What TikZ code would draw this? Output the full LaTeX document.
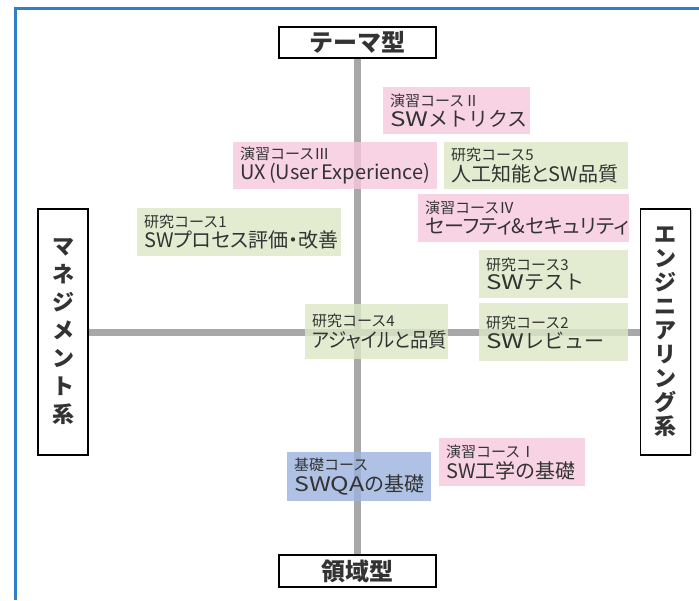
\documentclass[tikz,border=0pt]{standalone}
\usepackage{fontspec}
\setmainfont{Noto Sans CJK JP}
\newfontfamily\paltfont{Noto Sans CJK JP}[RawFeature=+palt]
\usetikzlibrary{shadows}
\definecolor{frameblue}{HTML}{2F80C9}
\definecolor{axisgray}{HTML}{A8A8A8}
\definecolor{cpink}{HTML}{F7C8DC}
\definecolor{cgreen}{HTML}{DCE8C6}
\definecolor{cblue}{HTML}{9BB3DF}
\definecolor{ctext}{HTML}{333333}
\tikzset{
  axisbox/.style={draw=black, line width=1.6pt, fill=white, inner sep=0pt,
    drop shadow={shadow xshift=1.2pt, shadow yshift=-1.2pt, fill=black!35, opacity=0.6},
    text=ctext, font=\fontsize{24}{24}\selectfont\bfseries},
  sidebox/.style={axisbox, minimum width=50pt, minimum height=246pt, align=center,
    font=\fontsize{22}{22}\selectfont\bfseries},
  axisline/.style={draw=axisgray, line width=7pt},
  course/.style={anchor=north west, inner xsep=7pt, inner ysep=0pt, align=left,
    fill opacity=0.8, text opacity=1, text=ctext},
  pinkc/.style={course, fill=cpink},
  greenc/.style={course, fill=cgreen},
  bluec/.style={course, fill=cblue},
}
% two-line course label: small heading, large title
\newcommand\ctitle[2]{{\fontsize{15}{16}\selectfont #1}\\[1.5pt]\mbox{\fontsize{20}{21}\selectfont #2}}
% widened Latin letters
\newcommand\wide[2][1.3]{\scalebox{#1}[1]{#2}}
\begin{document}
\begin{tikzpicture}[x=1pt, y=-1pt]
\useasboundingbox (0,0) rectangle (699,600);
\fill[white] (0,0) rectangle (699,600);
\draw[frameblue, line width=3pt] (15.5,600) -- (15.5,8.5) -- (699,8.5);
% axis boxes
\node[axisbox, minimum width=157pt, minimum height=31pt] (top) at (357.5,42.5) {テーマ型};
\node[axisbox, minimum width=157pt, minimum height=32pt] (bottom) at (357.5,571) {領域型};
\node[sidebox] (left) at (63,332) {マ\\[6pt]ネ\\[6pt]ジ\\[6pt]メ\\[6pt]ン\\[6pt]ト\\[6pt]系};
\node[sidebox] (right) at (665.5,332) {エ\\[2pt]ン\\[2pt]ジ\\[2pt]ニ\\[2pt]ア\\[2pt]リ\\[2pt]ン\\[2pt]グ\\[2pt]系};
% axes
\draw[axisline] (top) -- (bottom);
\draw[axisline] (left) -- (right);
% courses
\node[pinkc, text width=133pt, minimum height=47pt] (e2) at (383,87) {\ctitle{演習コースⅡ}{\wide{SW}メトリクス}};
\node[pinkc, text width=190pt, minimum height=47pt] (e3) at (233,142) {\ctitle{演習コースⅢ}{UX (User Experience)}};
\node[greenc, text width=170pt, minimum height=47pt] (r5) at (444,142) {\ctitle{研究コース5}{\paltfont 人工知能とSW品質}};
\node[greenc, text width=190pt, minimum height=48pt] (r1) at (137,208) {\ctitle{研究コース1}{\paltfont SWプロセス評価・改善}};
\node[pinkc, text width=197pt, minimum height=48pt] (e4) at (418,194) {\ctitle{演習コースⅣ}{\paltfont セーフティ\&セキュリティ}};
\node[greenc, text width=135pt, minimum height=48pt] (r3) at (479,250) {\ctitle{研究コース3}{\wide{SW}テスト}};
\node[greenc, text width=129pt, minimum height=55pt] (r4) at (305,304) {\ctitle{研究コース4}{\paltfont\scalebox{0.92}[1]{アジャイルと品質}}};
\node[greenc, text width=135pt, minimum height=58pt] (r2) at (479,303) {\ctitle{研究コース2}{\wide{SW}レビュー}};
\node[bluec, text width=130pt, minimum height=49pt] (b0) at (287,452) {\ctitle{基礎コース}{\wide[1.25]{SWQA}の基礎}};
\node[pinkc, text width=132pt, minimum height=48pt] (e1) at (439,438) {\ctitle{演習コースⅠ}{SW工学の基礎}};
\end{tikzpicture}
\end{document}
